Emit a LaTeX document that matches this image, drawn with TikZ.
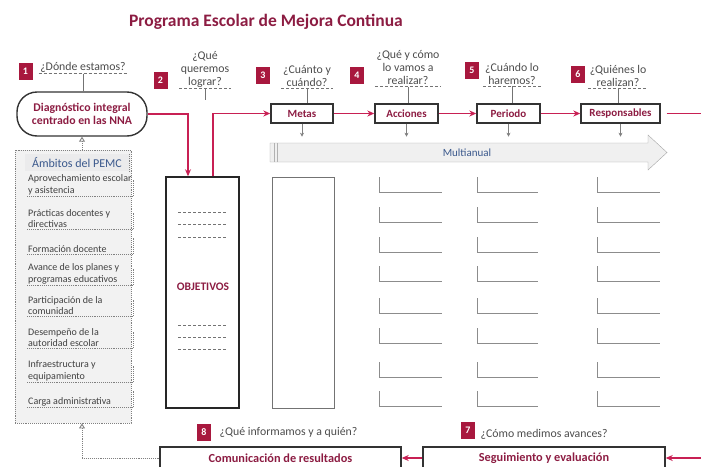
\documentclass[tikz,border=0pt]{standalone}
\usepackage{fontspec}
\setmainfont{Carlito}
\usetikzlibrary{arrows.meta}
\definecolor{pemcred}{RGB}{140,28,66}
\definecolor{pemcarrow}{RGB}{200,32,84}
\definecolor{pemcbadge}{RGB}{168,24,62}
\definecolor{pemcblue}{RGB}{58,88,140}
\begin{document}
\begin{tikzpicture}[x=1pt,y=-1pt,
    badge/.style={fill=pemcbadge,text=white,font=\bfseries\fontsize{10}{10}\selectfont,minimum width=14pt,minimum height=17pt,inner sep=0pt},
    quest/.style={align=center,text=black!70,font=\fontsize{11.8}{13}\selectfont,inner sep=1.5pt},
    stage/.style={draw=black!80,line width=1.4pt,text=pemcred,font=\bfseries\fontsize{11}{12}\selectfont,minimum height=19pt,inner sep=0pt},
    bottombox/.style={stage,minimum height=22pt,font=\bfseries\fontsize{12.3}{13}\selectfont},
    redline/.style={draw=pemcarrow,line width=1.4pt},
    redarrow/.style={redline,-{Stealth[length=7pt,width=6pt]}},
    downarr/.style={draw=black!50,-{Stealth[length=4pt,width=4pt]}},
    dashline/.style={draw=black!55,densely dashed,line width=0.6pt},
    thinline/.style={draw=black!55,line width=0.7pt},
    blank/.style={draw=black!45,line width=0.7pt},
    dotline/.style={draw=black!50,densely dotted,line width=0.9pt},
    item/.style={align=left,text=black!75,font=\fontsize{10}{11.5}\selectfont,inner sep=1pt}]
  \useasboundingbox (0,0) rectangle (701,466);
  \clip (0,0) rectangle (701,466);

  \node[text=pemcred,font=\bfseries\fontsize{17.5}{19}\selectfont] (title) at (266,22) {Programa Escolar de Mejora Continua};

  \node[draw=black!80,line width=1.4pt,rounded corners=20pt,minimum width=130pt,minimum height=44pt,align=center,text=pemcred,font=\bfseries\fontsize{11.8}{13.5}\selectfont] (diag) at (82,114) {Diagnóstico integral\\centrado en las NNA};

  \node[stage,minimum width=62pt] (metas) at (302,113.5) {Metas};
  \node[stage,minimum width=63pt] (acciones) at (406.5,113.5) {Acciones};
  \node[stage,minimum width=63pt] (periodo) at (508.5,113.5) {Periodo};
  \node[stage,minimum width=79pt] (responsables) at (620.5,113.5) {Responsables};

  \node[draw=black!85,line width=1.5pt,minimum width=73pt,minimum height=231pt] (obj) at (202.5,292.5) {};
  \node[text=pemcred,font=\bfseries\fontsize{11.5}{12}\selectfont] (objlabel) at (203,287) {OBJETIVOS};
  \foreach \dy in {212,224,237,325,337,349}
    \draw[dashline] (178,\dy) -- (227,\dy);
  \node[draw=black!55,line width=0.8pt,minimum width=62pt,minimum height=231pt] (metascol) at (303,292.5) {};

  \node[badge] (b1) at (25.5,71.5) {1};
  \node[badge] (b2) at (160.5,80) {2};
  \node[badge] (b3) at (263,75) {3};
  \node[badge] (b4) at (357,75) {4};
  \node[badge] (b5) at (472,70) {5};
  \node[badge] (b6) at (578,74) {6};
  \node[badge] (b7) at (468,430) {7};
  \node[badge] (b8) at (204,432) {8};

  \node[quest] (q1) at (83,67) {¿Dónde estamos?};
  \node[quest] (q2) at (205,69) {¿Qué\\queremos\\lograr?};
  \node[quest] (q3) at (307,76) {¿Cuánto y\\cuándo?};
  \node[quest] (q4) at (408,68) {¿Qué y cómo\\lo vamos a\\realizar?};
  \node[quest] (q5) at (512,74) {¿Cuándo lo\\haremos?};
  \node[quest] (q6) at (618,75.5) {¿Quiénes lo\\realizan?};
  \node[quest,anchor=west] (q7) at (479,434) {¿Cómo medimos avances?};
  \node[quest,anchor=west] (q8) at (218,432) {¿Qué informamos y a quién?};

  \foreach \q in {q1,q2,q3,q4,q5,q6}
    \draw[dashline] (\q.south west) -- (\q.south east);
  \draw[thinline] (q1.south) -- (q1.south |- diag.north);
  \draw[thinline] (q2.south) -- ++(0,11);
  \draw[thinline] (q3.south) -- (q3.south |- metas.north);
  \draw[thinline] (q4.south) -- (q4.south |- acciones.north);
  \draw[thinline] (q5.south) -- (q5.south |- periodo.north);
  \draw[thinline] (q6.south) -- (q6.south |- responsables.north);

  \draw[redarrow] (diag.east) -| ([xshift=-14.5pt]obj.north);
  \draw[redarrow] ([xshift=10.5pt]obj.north) |- (metas.west);
  \draw[redarrow] (metas) -- (acciones);
  \draw[redarrow] (acciones) -- (periodo);
  \draw[redarrow] (periodo) -- (responsables);
  \coordinate (outtop) at (701,113.5);
  \draw[redline] ([xshift=6pt]responsables.east) -- (outtop);

  \foreach \s in {metas,acciones,periodo,responsables}
    \draw[downarr] (\s.south) -- ++(0,13);

  \draw[draw=black!35,fill=black!6] (270,143) -- (648,143) -- (648,135) -- (667,152.5) -- (648,170) -- (648,162) -- (270,162) -- cycle;
  \draw[black!30] (274,143) -- (274,162) (277,143) -- (277,162);
  \node[text=pemcblue,font=\fontsize{11}{12}\selectfont] (multi) at (467,152.5) {Multianual};

  \foreach \cx/\w in {379/63,477/61,597/63}
    \foreach \ly in {192,222,252,281,313,343,377,406}
      \draw[blank] (\cx,\ly-15) -- (\cx,\ly) -- (\cx+\w,\ly);

  \node[draw=black!50,densely dotted,line width=0.9pt,fill=black!5,minimum width=116pt,minimum height=273pt,inner sep=0pt] (ambitos) at (73,286.5) {};
  \node[fill=blue!5!black!8,text=pemcblue,font=\fontsize{12}{13}\selectfont,minimum width=104pt,minimum height=17pt,inner sep=0pt] (ambhead) at (77,162.5) {Ámbitos del PEMC};
  \draw[dotline] (ambhead.north east) -- (ambhead.south east);
  \foreach \uy/\txt in {196/{Aprovechamiento escolar\\y asistencia},229/{Prácticas docentes y\\directivas},254/{Formación docente},285/{Avance de los planes y\\programas educativos},316/{Participación de la\\comunidad},348/{Desempeño de la\\autoridad escolar},382/{Infraestructura y\\equipamiento},407/{Carga administrativa}}{
    \node[item,anchor=south west] (amb\uy) at (27,\uy) {\txt};
    \draw[dotline] (27,\uy) -- (133,\uy) -- (133,\uy-16);
  }

  \node[bottombox,minimum width=241pt] (comunic) at (280.5,458) {Comunicación de resultados};
  \node[bottombox,minimum width=242pt] (seguim) at (544,458) {Seguimiento y evaluación};
  \coordinate (outbot) at (701,458);
  \draw[redarrow] (outbot) -- (seguim.east);
  \draw[redarrow] (seguim.west) -- (comunic.east);

  \draw[dotline,-{Triangle[open,length=5pt,width=6pt]}] (diag.south |- ambitos.north) -- (diag.south);
  \draw[dotline,-{Triangle[open,length=5pt,width=6pt]}] (comunic.west) -| (diag.south |- ambitos.south);
\end{tikzpicture}
\end{document}
